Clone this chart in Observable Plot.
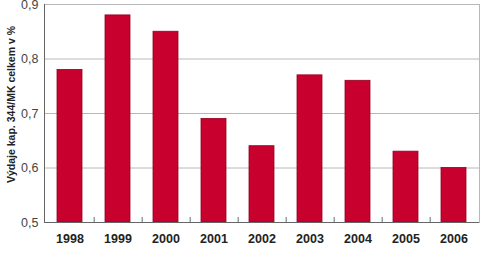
<!DOCTYPE html>
<html>
<head>
<meta charset="utf-8">
<script src="https://cdn.jsdelivr.net/npm/d3@7"></script>
<script src="https://cdn.jsdelivr.net/npm/@observablehq/plot@0.6"></script>
<style>
  html, body { margin: 0; padding: 0; background: #fff; }
  #chart svg { display: block; }
</style>
</head>
<body>
<div id="chart"></div>
<script>
const years = ["1998", "1999", "2000", "2001", "2002", "2003", "2004", "2005", "2006"];
const values = [0.78, 0.88, 0.85, 0.69, 0.64, 0.77, 0.76, 0.63, 0.60];
const yTicks = [0.5, 0.6, 0.7, 0.8, 0.9];
const yLabel = "Výdaje kap. 344/MK celkem v %";

const data = years.map((y, i) => ({year: y, value: values[i]}));
const fmt = d => d.toFixed(1).replace(".", ",");

const W = 486, H = 254, ML = 44, MR = 7;
const step = (W - ML - MR) / years.length;

const chart = Plot.plot({
  width: W,
  height: H,
  marginLeft: ML,
  marginRight: MR,
  marginTop: 4,
  marginBottom: 32,
  style: {fontFamily: "'Liberation Sans', Arial, sans-serif", background: "#fff"},
  x: {domain: years, paddingInner: 0.48, paddingOuter: 0.24, label: null},
  y: {domain: [0.5, 0.9], label: null},
  marks: [
    Plot.ruleY(yTicks.slice(1), {stroke: "#b8b8b8", strokeWidth: 1}),
    Plot.frame({anchor: "right", stroke: "#b8b8b8"}),
    Plot.barY(data, {x: "year", y1: 0.5, y2: "value", fill: "#c8002e", stroke: "#98001f", strokeWidth: 0.8}),
    Plot.ruleY([0.5], {stroke: "#666", strokeWidth: 1}),
    Plot.frame({anchor: "left", stroke: "#666"}),
    Plot.ruleX(years.slice(0, -1), {x: d => d, y1: 0.5, y2: 0.509, dx: step / 2, stroke: "#666"}),
    Plot.axisY({ticks: yTicks, tickFormat: fmt, tickSize: 0, tickPadding: 6, label: null, fontSize: 12.5, fill: "#444"}),
    Plot.axisX({tickSize: 0, tickPadding: 12, label: null, fontSize: 12.5, fontWeight: "bold", fill: "#222"}),
    Plot.text([yLabel], {frameAnchor: "left", textAnchor: "middle", rotate: -90, dx: -33, dy: -9, fontSize: 10.5, fontWeight: "bold", fill: "#222", text: d => d})
  ]
});
document.getElementById("chart").appendChild(chart);
</script>
</body>
</html>
